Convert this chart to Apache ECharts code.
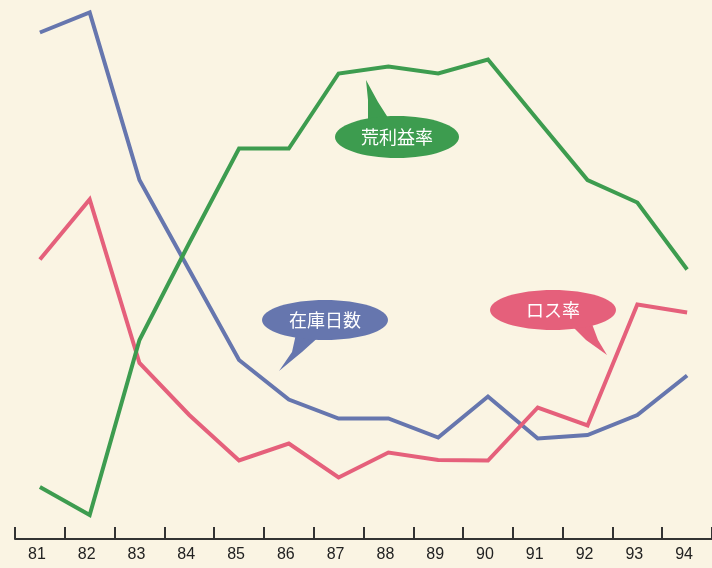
<!DOCTYPE html>
<html>
<head>
<meta charset="utf-8">
<script src="https://cdn.jsdelivr.net/npm/echarts@6/dist/echarts.min.js"></script>
<style>
  html, body { margin: 0; padding: 0; background: #faf4e3; }
  #chart { width: 712px; height: 568px; }
</style>
</head>
<body>
<div id="chart"></div>
<script>
// Fiscal years (two-digit)
const years = ['81', '82', '83', '84', '85', '86', '87', '88', '89', '90', '91', '92', '93', '94'];

// Index values on a common relative scale
const inventoryDays = [101.3, 105.3, 71.8, 53.8, 35.8, 27.9, 24.1, 24.1, 20.3, 28.5, 20.1, 20.8, 24.8, 32.7];
const lossRate      = [55.9, 67.9, 35.2, 24.8, 15.7, 19.1, 12.3, 17.3, 15.8, 15.7, 26.3, 22.7, 46.9, 45.3];
const grossMargin   = [10.4, 4.8, 39.8, 59.2, 78.1, 78.1, 93.1, 94.5, 93.1, 95.9, 83.8, 71.8, 67.3, 53.9];

const BLUE = '#6676ae';
const RED = '#e5607b';
const GREEN = '#3d9c4f';

// Speech-bubble callout: ellipse with a pointed tail
function bubble(text, color, cx, cy, rx, ry, tail) {
  return {
    type: 'group',
    children: [
      { type: 'polygon', shape: { points: tail }, style: { fill: color } },
      { type: 'ellipse', shape: { cx: cx, cy: cy, rx: rx, ry: ry }, style: { fill: color } },
      {
        type: 'text', x: cx, y: cy,
        style: {
          text: text, fill: '#ffffff', fontSize: 18,
          fontFamily: '"Noto Sans CJK JP", sans-serif',
          align: 'center', verticalAlign: 'middle'
        }
      }
    ]
  };
}

const chart = echarts.init(document.getElementById('chart'));
chart.setOption({
  backgroundColor: '#faf4e3',
  animation: false,
  grid: { left: 15, right: -3, top: 0, bottom: 29 },
  xAxis: {
    type: 'category',
    data: years,
    boundaryGap: true,
    axisLine: { lineStyle: { color: '#333333', width: 2 } },
    axisTick: { show: true, inside: true, length: 12, lineStyle: { color: '#333333', width: 2 } },
    axisLabel: {
      color: '#222222', fontSize: 16, margin: 8,
      fontFamily: '"Liberation Sans Narrow", "Liberation Sans", Arial, sans-serif',
      padding: [0, 6, 0, 0]
    }
  },
  yAxis: {
    type: 'value', min: 0, max: 107.8, show: false,
    splitLine: { show: false }
  },
  series: [
    {
      name: '在庫日数', type: 'line', data: inventoryDays, showSymbol: false,
      lineStyle: { color: BLUE, width: 4, join: 'miter' }, z: 2
    },
    {
      name: 'ロス率', type: 'line', data: lossRate, showSymbol: false,
      lineStyle: { color: RED, width: 4, join: 'miter' }, z: 3
    },
    {
      name: '荒利益率', type: 'line', data: grossMargin, showSymbol: false,
      lineStyle: { color: GREEN, width: 4, join: 'miter' }, z: 4
    }
  ],
  graphic: [
    bubble('荒利益率', GREEN, 397, 137, 62, 21, [[366, 80], [368, 100], [368, 124], [392, 124], [378, 102]]),
    bubble('在庫日数', BLUE, 325, 320, 63, 20, [[296, 334], [322, 334], [302, 352], [279, 371], [292, 352]]),
    bubble('ロス率', RED, 553, 310, 63, 20, [[570, 324], [592, 324], [598, 340], [607, 355], [586, 340]])
  ]
});
</script>
</body>
</html>
